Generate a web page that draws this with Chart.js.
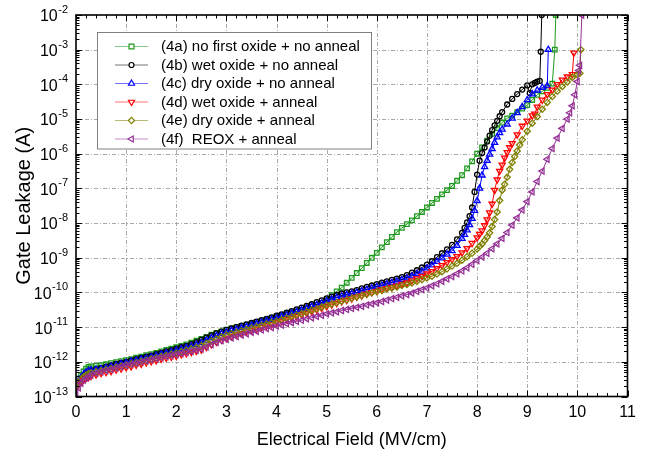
<!DOCTYPE html>
<html>
<head>
<meta charset="utf-8">
<script src="https://cdn.jsdelivr.net/npm/chart.js@4.4.1/dist/chart.umd.min.js"></script>
<style>
html,body{margin:0;padding:0;background:#fff;}
#wrap{width:647px;height:454px;position:relative;}
</style>
</head>
<body>
<div id="wrap"><canvas id="c" width="647" height="454"></canvas></div>
<script>
// ---- Data: [electric field (MV/cm), log10 of gate leakage (A)] ----
const s4a = [[0,-12.62],[0.05,-12.48],[0.1,-12.38],[0.15,-12.28],[0.2,-12.2],[0.25,-12.15],[0.3,-12.13],[0.4,-12.12],[0.5,-12.1],[0.6,-12.07],[0.7,-12.04],[0.8,-12.01],[0.9,-11.98],[1,-11.95],[1.1,-11.92],[1.2,-11.88],[1.3,-11.85],[1.4,-11.81],[1.5,-11.78],[1.6,-11.74],[1.7,-11.7],[1.8,-11.66],[1.9,-11.62],[2,-11.58],[2.1,-11.54],[2.2,-11.5],[2.3,-11.45],[2.4,-11.39],[2.5,-11.34],[2.6,-11.28],[2.7,-11.22],[2.8,-11.17],[2.9,-11.12],[3,-11.07],[3.1,-11.04],[3.2,-11],[3.3,-10.97],[3.4,-10.93],[3.5,-10.9],[3.6,-10.86],[3.7,-10.82],[3.8,-10.78],[3.9,-10.74],[4,-10.7],[4.1,-10.66],[4.2,-10.62],[4.3,-10.58],[4.4,-10.54],[4.5,-10.5],[4.6,-10.46],[4.7,-10.41],[4.8,-10.36],[4.9,-10.3],[5,-10.2],[5.1,-10.08],[5.2,-9.97],[5.3,-9.86],[5.4,-9.72],[5.5,-9.58],[5.6,-9.44],[5.7,-9.3],[5.8,-9.15],[5.9,-9],[6,-8.86],[6.1,-8.7],[6.2,-8.55],[6.3,-8.4],[6.4,-8.26],[6.5,-8.14],[6.6,-8.03],[6.7,-7.92],[6.8,-7.8],[6.9,-7.68],[7,-7.55],[7.1,-7.42],[7.2,-7.3],[7.3,-7.17],[7.4,-7.05],[7.5,-6.93],[7.6,-6.78],[7.7,-6.62],[7.8,-6.42],[7.9,-6.22],[8,-6],[8.1,-5.82],[8.2,-5.62],[8.3,-5.43],[8.4,-5.26],[8.5,-5.1],[8.6,-4.98],[8.7,-4.9],[8.8,-4.8],[8.9,-4.7],[9,-4.6],[9.1,-4.45],[9.2,-4.3],[9.3,-4.2],[9.4,-4.1],[9.5,-3.98],[9.55,-3],[9.57,-2]];
const s4b = [[0,-12.72],[0.05,-12.58],[0.1,-12.5],[0.15,-12.4],[0.2,-12.32],[0.25,-12.27],[0.3,-12.25],[0.4,-12.21],[0.5,-12.18],[0.6,-12.14],[0.7,-12.1],[0.8,-12.06],[0.9,-12.03],[1,-12],[1.1,-11.96],[1.2,-11.92],[1.3,-11.89],[1.4,-11.85],[1.5,-11.82],[1.6,-11.78],[1.7,-11.74],[1.8,-11.7],[1.9,-11.66],[2,-11.62],[2.1,-11.58],[2.2,-11.54],[2.3,-11.49],[2.4,-11.43],[2.5,-11.37],[2.6,-11.3],[2.7,-11.24],[2.8,-11.18],[2.9,-11.13],[3,-11.08],[3.1,-11.04],[3.2,-11],[3.3,-10.96],[3.4,-10.92],[3.5,-10.88],[3.6,-10.84],[3.7,-10.8],[3.8,-10.76],[3.9,-10.72],[4,-10.67],[4.1,-10.63],[4.2,-10.58],[4.3,-10.54],[4.4,-10.49],[4.5,-10.44],[4.6,-10.39],[4.7,-10.34],[4.8,-10.28],[4.9,-10.23],[5,-10.17],[5.1,-10.12],[5.2,-10.07],[5.3,-10.03],[5.4,-10],[5.5,-9.97],[5.6,-9.93],[5.7,-9.88],[5.8,-9.84],[5.9,-9.8],[6,-9.76],[6.1,-9.72],[6.2,-9.68],[6.3,-9.64],[6.4,-9.6],[6.5,-9.56],[6.6,-9.5],[6.7,-9.43],[6.8,-9.36],[6.9,-9.28],[7,-9.2],[7.1,-9.1],[7.2,-8.98],[7.3,-8.87],[7.4,-8.76],[7.5,-8.63],[7.6,-8.47],[7.7,-8.28],[7.75,-8.14],[7.8,-7.98],[7.85,-7.8],[7.9,-7.55],[7.95,-7.1],[8,-6.6],[8.05,-6.2],[8.1,-5.98],[8.15,-5.82],[8.2,-5.65],[8.25,-5.48],[8.3,-5.32],[8.35,-5.18],[8.4,-5.05],[8.45,-4.92],[8.5,-4.8],[8.6,-4.58],[8.7,-4.42],[8.8,-4.28],[8.9,-4.15],[9,-4.03],[9.05,-4.25],[9.1,-4],[9.15,-3.96],[9.2,-3.92],[9.25,-3.9],[9.27,-3.06],[9.29,-2]];
const s4c = [[0,-12.68],[0.05,-12.55],[0.1,-12.45],[0.15,-12.36],[0.2,-12.3],[0.25,-12.26],[0.3,-12.24],[0.4,-12.22],[0.5,-12.2],[0.6,-12.17],[0.7,-12.13],[0.8,-12.1],[0.9,-12.06],[1,-12.03],[1.1,-11.99],[1.2,-11.96],[1.3,-11.92],[1.4,-11.89],[1.5,-11.86],[1.6,-11.82],[1.7,-11.78],[1.8,-11.75],[1.9,-11.71],[2,-11.67],[2.1,-11.63],[2.2,-11.59],[2.3,-11.55],[2.4,-11.5],[2.5,-11.45],[2.6,-11.38],[2.7,-11.31],[2.8,-11.25],[2.9,-11.19],[3,-11.14],[3.1,-11.1],[3.2,-11.06],[3.3,-11.02],[3.4,-10.98],[3.5,-10.94],[3.6,-10.9],[3.7,-10.86],[3.8,-10.82],[3.9,-10.78],[4,-10.74],[4.1,-10.69],[4.2,-10.65],[4.3,-10.6],[4.4,-10.56],[4.5,-10.51],[4.6,-10.46],[4.7,-10.41],[4.8,-10.36],[4.9,-10.31],[5,-10.25],[5.1,-10.2],[5.2,-10.15],[5.3,-10.11],[5.4,-10.07],[5.5,-10.04],[5.6,-10],[5.7,-9.96],[5.8,-9.92],[5.9,-9.88],[6,-9.84],[6.1,-9.8],[6.2,-9.76],[6.3,-9.72],[6.4,-9.68],[6.5,-9.64],[6.6,-9.59],[6.7,-9.53],[6.8,-9.46],[6.9,-9.39],[7,-9.3],[7.1,-9.21],[7.2,-9.11],[7.3,-9.01],[7.4,-8.9],[7.5,-8.8],[7.6,-8.65],[7.7,-8.45],[7.75,-8.33],[7.8,-8.2],[7.85,-8.05],[7.9,-7.87],[7.95,-7.64],[8,-7.36],[8.05,-7],[8.1,-6.62],[8.15,-6.38],[8.2,-6.2],[8.25,-6.02],[8.3,-5.86],[8.35,-5.68],[8.4,-5.52],[8.45,-5.4],[8.5,-5.3],[8.6,-5.15],[8.7,-4.98],[8.8,-4.82],[8.9,-4.65],[9,-4.45],[9.1,-4.28],[9.2,-4.17],[9.3,-4.09],[9.4,-4.04],[9.42,-3]];
const s4d = [[0,-12.78],[0.05,-12.66],[0.1,-12.58],[0.15,-12.52],[0.2,-12.47],[0.25,-12.44],[0.3,-12.41],[0.4,-12.37],[0.5,-12.33],[0.6,-12.3],[0.7,-12.27],[0.8,-12.23],[0.9,-12.2],[1,-12.16],[1.1,-12.13],[1.2,-12.09],[1.3,-12.06],[1.4,-12.02],[1.5,-11.99],[1.6,-11.96],[1.7,-11.92],[1.8,-11.89],[1.9,-11.86],[2,-11.83],[2.1,-11.79],[2.2,-11.76],[2.3,-11.72],[2.4,-11.69],[2.5,-11.65],[2.6,-11.58],[2.7,-11.5],[2.8,-11.43],[2.9,-11.37],[3,-11.32],[3.1,-11.27],[3.2,-11.22],[3.3,-11.18],[3.4,-11.13],[3.5,-11.09],[3.6,-11.05],[3.7,-11],[3.8,-10.96],[3.9,-10.92],[4,-10.87],[4.1,-10.83],[4.2,-10.78],[4.3,-10.74],[4.4,-10.69],[4.5,-10.64],[4.6,-10.6],[4.7,-10.55],[4.8,-10.5],[4.9,-10.45],[5,-10.4],[5.1,-10.35],[5.2,-10.31],[5.3,-10.26],[5.4,-10.22],[5.5,-10.18],[5.6,-10.13],[5.7,-10.09],[5.8,-10.04],[5.9,-10],[6,-9.96],[6.1,-9.92],[6.2,-9.88],[6.3,-9.85],[6.4,-9.81],[6.5,-9.76],[6.6,-9.72],[6.7,-9.66],[6.8,-9.6],[6.9,-9.53],[7,-9.46],[7.1,-9.39],[7.2,-9.31],[7.3,-9.22],[7.4,-9.13],[7.5,-9.05],[7.6,-8.96],[7.7,-8.85],[7.8,-8.73],[7.9,-8.58],[8,-8.42],[8.05,-8.32],[8.1,-8.22],[8.15,-8.07],[8.2,-7.9],[8.25,-7.7],[8.3,-7.45],[8.35,-7.05],[8.4,-6.75],[8.45,-6.5],[8.5,-6.32],[8.55,-6.12],[8.6,-5.96],[8.65,-5.82],[8.7,-5.7],[8.8,-5.45],[8.9,-5.2],[9,-5.05],[9.1,-4.9],[9.15,-4.85],[9.2,-4.65],[9.3,-4.45],[9.4,-4.29],[9.5,-4.16],[9.6,-4],[9.7,-3.87],[9.8,-3.78],[9.9,-3.71],[9.93,-3.09]];
const s4e = [[0,-12.7],[0.05,-12.6],[0.1,-12.5],[0.15,-12.43],[0.2,-12.38],[0.25,-12.34],[0.3,-12.32],[0.4,-12.29],[0.5,-12.26],[0.6,-12.23],[0.7,-12.2],[0.8,-12.16],[0.9,-12.13],[1,-12.1],[1.1,-12.06],[1.2,-12.03],[1.3,-11.99],[1.4,-11.96],[1.5,-11.92],[1.6,-11.89],[1.7,-11.85],[1.8,-11.82],[1.9,-11.78],[2,-11.75],[2.1,-11.71],[2.2,-11.67],[2.3,-11.63],[2.4,-11.59],[2.5,-11.54],[2.6,-11.47],[2.7,-11.4],[2.8,-11.34],[2.9,-11.28],[3,-11.23],[3.1,-11.19],[3.2,-11.15],[3.3,-11.11],[3.4,-11.07],[3.5,-11.03],[3.6,-10.99],[3.7,-10.95],[3.8,-10.91],[3.9,-10.87],[4,-10.83],[4.1,-10.79],[4.2,-10.74],[4.3,-10.7],[4.4,-10.65],[4.5,-10.61],[4.6,-10.56],[4.7,-10.51],[4.8,-10.47],[4.9,-10.42],[5,-10.37],[5.1,-10.33],[5.2,-10.29],[5.3,-10.25],[5.4,-10.21],[5.5,-10.17],[5.6,-10.13],[5.7,-10.09],[5.8,-10.05],[5.9,-10.01],[6,-9.97],[6.1,-9.94],[6.2,-9.9],[6.3,-9.87],[6.4,-9.84],[6.5,-9.8],[6.6,-9.77],[6.7,-9.73],[6.8,-9.68],[6.9,-9.63],[7,-9.58],[7.1,-9.53],[7.2,-9.47],[7.3,-9.4],[7.4,-9.32],[7.5,-9.24],[7.6,-9.16],[7.7,-9.07],[7.8,-8.97],[7.9,-8.87],[8,-8.75],[8.05,-8.67],[8.1,-8.6],[8.15,-8.5],[8.2,-8.4],[8.25,-8.28],[8.3,-8.1],[8.35,-7.9],[8.4,-7.68],[8.45,-7.35],[8.5,-7.05],[8.55,-6.88],[8.6,-6.68],[8.65,-6.45],[8.7,-6.25],[8.75,-6.08],[8.8,-5.92],[8.85,-5.75],[8.9,-5.6],[9,-5.35],[9.1,-5.12],[9.2,-4.93],[9.3,-4.72],[9.4,-4.52],[9.5,-4.35],[9.6,-4.2],[9.7,-4.06],[9.8,-3.93],[9.9,-3.8],[10,-3.72],[10.05,-3.68],[10.07,-3]];
const s4f = [[0,-12.96],[0.05,-12.75],[0.1,-12.62],[0.15,-12.53],[0.2,-12.47],[0.25,-12.42],[0.3,-12.38],[0.4,-12.33],[0.5,-12.29],[0.6,-12.25],[0.7,-12.22],[0.8,-12.18],[0.9,-12.14],[1,-12.1],[1.1,-12.07],[1.2,-12.04],[1.3,-12.01],[1.4,-11.97],[1.5,-11.94],[1.6,-11.91],[1.7,-11.88],[1.8,-11.85],[1.9,-11.82],[2,-11.79],[2.1,-11.76],[2.2,-11.73],[2.3,-11.7],[2.4,-11.67],[2.5,-11.63],[2.6,-11.57],[2.7,-11.5],[2.8,-11.44],[2.9,-11.39],[3,-11.35],[3.1,-11.31],[3.2,-11.27],[3.3,-11.23],[3.4,-11.19],[3.5,-11.15],[3.6,-11.12],[3.7,-11.08],[3.8,-11.04],[3.9,-11.01],[4,-10.97],[4.1,-10.94],[4.2,-10.9],[4.3,-10.87],[4.4,-10.83],[4.5,-10.8],[4.6,-10.76],[4.7,-10.73],[4.8,-10.69],[4.9,-10.66],[5,-10.62],[5.1,-10.59],[5.2,-10.56],[5.3,-10.52],[5.4,-10.49],[5.5,-10.46],[5.6,-10.43],[5.7,-10.4],[5.8,-10.36],[5.9,-10.33],[6,-10.3],[6.1,-10.26],[6.2,-10.22],[6.3,-10.18],[6.4,-10.14],[6.5,-10.1],[6.6,-10.06],[6.7,-10.02],[6.8,-9.97],[6.9,-9.92],[7,-9.87],[7.1,-9.81],[7.2,-9.75],[7.3,-9.68],[7.4,-9.61],[7.5,-9.54],[7.6,-9.46],[7.7,-9.38],[7.8,-9.29],[7.9,-9.19],[8,-9.08],[8.1,-8.98],[8.2,-8.87],[8.3,-8.74],[8.4,-8.6],[8.5,-8.44],[8.6,-8.27],[8.7,-8.06],[8.8,-7.85],[8.9,-7.62],[9,-7.38],[9.1,-7.1],[9.2,-6.8],[9.3,-6.5],[9.4,-6.16],[9.5,-5.85],[9.6,-5.55],[9.7,-5.27],[9.8,-5],[9.85,-4.82],[9.9,-4.62],[9.95,-4.3],[10,-3.92],[10.03,-3.6],[10.05,-3.45],[10.09,-2]];

const seriesLabels = ['(4a) no first oxide + no anneal','(4b) wet oxide + no anneal','(4c) dry oxide + no anneal','(4d) wet oxide + anneal','(4e) dry oxide + anneal','(4f)  REOX + anneal'];
const xTickLabels = ['0','1','2','3','4','5','6','7','8','9','10','11'];
const yDecadeExponents = [-13,-12,-11,-10,-9,-8,-7,-6,-5,-4,-3,-2];

// ---- styles ----
const styles = [
  {color:'#1e9a1e', pointStyle:'rect', radius:3.2, rotation:0},
  {color:'#000000', pointStyle:'circle', radius:2.5, rotation:0},
  {color:'#0000ff', pointStyle:'triangle', radius:3.5, rotation:0},
  {color:'#ff0000', pointStyle:'triangle', radius:3.5, rotation:180},
  {color:'#808000', pointStyle:'rectRot', radius:3.1, rotation:0},
  {color:'#952f95', pointStyle:'triangle', radius:3.5, rotation:270}
];
const allSeries = [s4a,s4b,s4c,s4d,s4e,s4f];
const FONT = '"Liberation Sans", Arial, Helvetica, sans-serif';

const datasets = allSeries.map((s,i)=>({
  label: seriesLabels[i],
  data: s.map(p=>({x:p[0], y:Math.pow(10,p[1])})),
  showLine: true,
  borderColor: styles[i].color,
  borderWidth: 1,
  pointStyle: styles[i].pointStyle,
  pointRotation: styles[i].rotation,
  pointRadius: styles[i].radius,
  pointBorderWidth: 1.3,
  pointBorderColor: styles[i].color,
  pointBackgroundColor: 'rgba(255,255,255,0)',
  order: 6 - i
}));

function line(ctx,x1,y1,x2,y2){ctx.beginPath();ctx.moveTo(x1,y1);ctx.lineTo(x2,y2);ctx.stroke();}

const decor = {
  id:'decor',
  beforeDatasetsDraw(chart){
    const {ctx, chartArea:a, scales:{x,y}} = chart;
    ctx.save();
    ctx.strokeStyle = '#aaaaaa'; ctx.lineWidth = 1; ctx.setLineDash([4,2,1,2]);
    xTickLabels.forEach(t=>{
      const v = Number(t); if (v<=0 || v>=11) return;
      const px = Math.round(x.getPixelForValue(v))+0.5;
      line(ctx,px,a.top,px,a.bottom);
    });
    yDecadeExponents.forEach(e=>{
      if (e<=-13 || e>=-2) return;
      const py = Math.round(y.getPixelForValue(Math.pow(10,e)))+0.5;
      line(ctx,a.left,py,a.right,py);
    });
    ctx.restore();
  },
  afterDatasetsDraw(chart){
    const {ctx, chartArea:a, scales:{x,y}} = chart;
    ctx.save();
    // frame
    ctx.strokeStyle = '#000'; ctx.lineWidth = 1.6; ctx.setLineDash([]);
    ctx.strokeRect(a.left, a.top, a.right-a.left, a.bottom-a.top);
    // x ticks (bottom and top), every 0.2
    ctx.lineWidth = 1;
    for (let k=0;k<=55;k++){
      const v = k/5; const major = (k%5===0);
      const len = major ? 6 : 3.5;
      const px = Math.round(x.getPixelForValue(v))+0.5;
      line(ctx,px,a.bottom,px,a.bottom-len);
      line(ctx,px,a.top,px,a.top+len);
    }
    // y ticks (left and right)
    yDecadeExponents.forEach(e=>{
      for (let m=1;m<=9;m++){
        if (e===-2 && m>1) break;
        const v = m*Math.pow(10,e);
        const len = (m===1) ? 6 : 3.5;
        const py = Math.round(y.getPixelForValue(v))+0.5;
        line(ctx,a.left,py,a.left+len,py);
        line(ctx,a.right,py,a.right-len,py);
      }
    });
    // x tick labels
    ctx.fillStyle = '#000';
    ctx.font = '16px ' + FONT;
    ctx.textAlign = 'center'; ctx.textBaseline = 'middle';
    xTickLabels.forEach(t=>{
      ctx.fillText(t, x.getPixelForValue(Number(t)), a.bottom + 16);
    });
    // y tick labels 10^n
    yDecadeExponents.forEach(e=>{
      const py = y.getPixelForValue(Math.pow(10,e));
      const ex = String(e);
      ctx.font = '11px ' + FONT;
      const ew = ctx.measureText(ex).width;
      const right = a.left - 8;
      ctx.textAlign = 'left'; ctx.textBaseline = 'middle';
      ctx.fillText(ex, right - ew, py - 5);
      ctx.font = '16px ' + FONT;
      ctx.textAlign = 'right';
      ctx.fillText('10', right - ew - 0.5, py + 2);
    });
    // axis titles
    ctx.font = '18px ' + FONT;
    ctx.textAlign = 'center'; ctx.textBaseline = 'middle';
    ctx.fillText('Electrical Field (MV/cm)', (a.left+a.right)/2, 440);
    ctx.save();
    ctx.translate(24, (a.top+a.bottom)/2);
    ctx.rotate(-Math.PI/2);
    ctx.font = '20px ' + FONT;
    ctx.fillText('Gate Leakage (A)', 0, 0);
    ctx.restore();
    // legend
    const bx = 97.5, by = 32.5, bw = 274, bh = 116.5;
    ctx.fillStyle = '#fff';
    ctx.fillRect(bx, by, bw, bh);
    ctx.strokeStyle = '#808080'; ctx.lineWidth = 1;
    ctx.strokeRect(bx, by, bw, bh);
    seriesLabels.forEach((lab,i)=>{
      const st = styles[i];
      const cy = 46.5 + i*18.5;
      ctx.strokeStyle = st.color; ctx.globalAlpha = 0.55; ctx.lineWidth = 1;
      line(ctx,115,cy,148,cy);
      ctx.globalAlpha = 1;
      ctx.fillStyle = '#fff'; ctx.lineWidth = 1.2;
      if (Chart.helpers && Chart.helpers.drawPoint) {
        Chart.helpers.drawPoint(ctx, {pointStyle: st.pointStyle, rotation: st.rotation, radius: st.pointStyle==='rect'?3.5:st.radius, borderWidth:1.2}, 131.5, cy);
      }
      ctx.fillStyle = '#000';
      ctx.font = '15px ' + FONT;
      ctx.textAlign = 'left'; ctx.textBaseline = 'middle';
      ctx.fillText(lab, 161, cy + 0.5);
    });
    ctx.restore();
  }
};

new Chart(document.getElementById('c'), {
  type: 'scatter',
  data: { datasets },
  options: {
    responsive: false,
    animation: false,
    devicePixelRatio: 1,
    layout: { padding: { left: 0, right: 19.5, top: 15, bottom: 0 } },
    plugins: { legend: { display: false }, tooltip: { enabled: false } },
    scales: {
      x: { type: 'linear', min: 0, max: 11, position: 'bottom',
           grid: { display: false }, border: { display: false }, ticks: { display: false },
           afterFit(s){ s.height = 57.5; } },
      y: { type: 'logarithmic', min: 1e-13, max: 1e-2, position: 'left',
           grid: { display: false }, border: { display: false }, ticks: { display: false },
           afterFit(s){ s.width = 76; } }
    }
  },
  plugins: [decor]
});
</script>
</body>
</html>
